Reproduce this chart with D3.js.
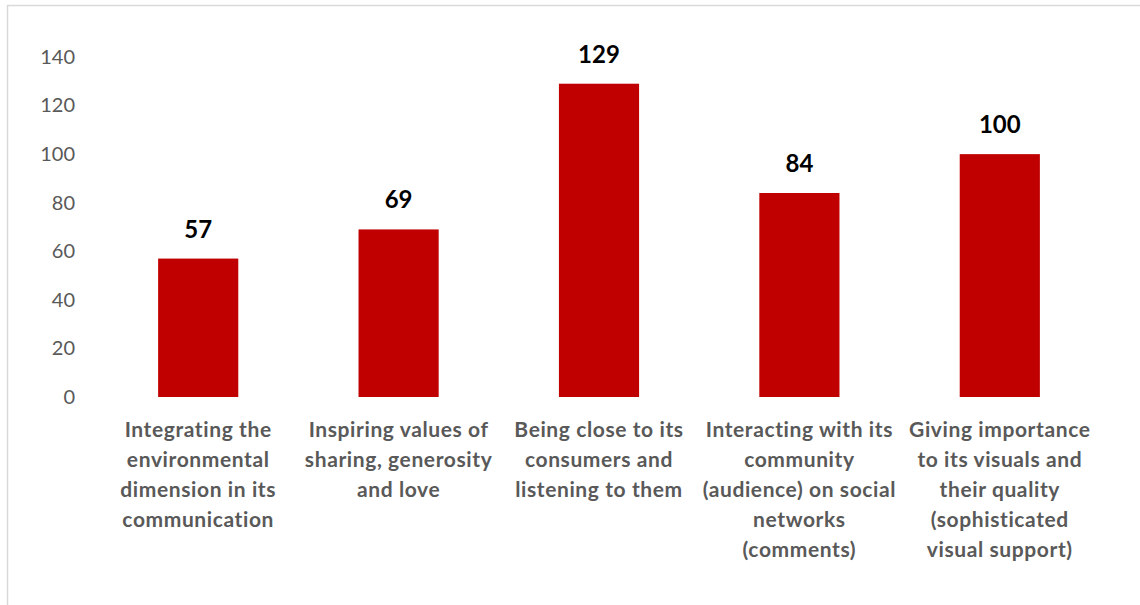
<!DOCTYPE html>
<html>
<head>
<meta charset="utf-8">
<script src="https://cdn.jsdelivr.net/npm/d3@7"></script>
<style>
  html, body { margin: 0; padding: 0; background: #fff; }
  svg { display: block; }
</style>
</head>
<body>
<svg id="chart" width="1140" height="605"></svg>
<script>
// Categories (each entry is a list of wrapped label lines)
const categories = [
  ["Integrating the", "environmental", "dimension in its", "communication"],
  ["Inspiring values of", "sharing, generosity", "and love"],
  ["Being close to its", "consumers and", "listening to them"],
  ["Interacting with its", "community", "(audience) on social", "networks", "(comments)"],
  ["Giving importance", "to its visuals and", "their quality", "(sophisticated", "visual support)"]
];
const values = [57, 69, 129, 84, 100];
const yTicks = [0, 20, 40, 60, 80, 100, 120, 140];

const svg = d3.select("#chart");
const W = 1140, H = 605;
const margin = { left: 98, right: 40, top: 57, bottom: 208 };
const fontFamily = "Lato, 'Open Sans', sans-serif";

svg.append("rect").attr("width", W).attr("height", H).attr("fill", "#fff");

// chart area frame (top and left edges visible)
svg.append("rect")
  .attr("x", 7.5).attr("y", 5.5)
  .attr("width", W + 20).attr("height", H + 20)
  .attr("fill", "none")
  .attr("stroke", "#d9d9d9")
  .attr("stroke-width", 1.5);

const x = d3.scaleBand()
  .domain(d3.range(categories.length))
  .range([margin.left, W - margin.right])
  .paddingInner(0.6)
  .paddingOuter(0.3);

const y = d3.scaleLinear()
  .domain([0, 140])
  .range([H - margin.bottom, margin.top]);

// value axis: labels only
const yAxis = svg.append("g")
  .attr("transform", `translate(${margin.left - 23},0)`)
  .call(d3.axisLeft(y).tickValues(yTicks).tickSize(0).tickPadding(0));
yAxis.select(".domain").remove();
yAxis.selectAll("text")
  .attr("fill", "#595959")
  .style("font-family", fontFamily)
  .style("font-size", "20px");

// bars
svg.append("g").selectAll("rect")
  .data(values)
  .join("rect")
  .attr("x", (d, i) => x(i))
  .attr("y", d => y(d))
  .attr("width", x.bandwidth())
  .attr("height", d => y(0) - y(d))
  .attr("fill", "#c00000");

// value labels
svg.append("g").selectAll("text")
  .data(values)
  .join("text")
  .attr("x", (d, i) => x(i) + x.bandwidth() / 2)
  .attr("y", d => y(d) - 21)
  .attr("text-anchor", "middle")
  .attr("fill", "#000")
  .style("font-family", fontFamily)
  .style("font-weight", "bold")
  .style("font-size", "24px")
  .text(d => d);

// category labels
const catG = svg.append("g").selectAll("text")
  .data(categories)
  .join("text")
  .attr("x", (d, i) => x(i) + x.bandwidth() / 2)
  .attr("y", y(0) + 40)
  .attr("text-anchor", "middle")
  .attr("fill", "#595959")
  .style("font-family", fontFamily)
  .style("font-weight", "bold")
  .style("font-size", "21px")
  .style("letter-spacing", "0.6px");
catG.selectAll("tspan")
  .data((d, i) => d.map(line => ({ line, i })))
  .join("tspan")
  .attr("x", d => x(d.i) + x.bandwidth() / 2)
  .attr("dy", (d, k) => k === 0 ? 0 : 30)
  .text(d => d.line);
</script>
</body>
</html>
